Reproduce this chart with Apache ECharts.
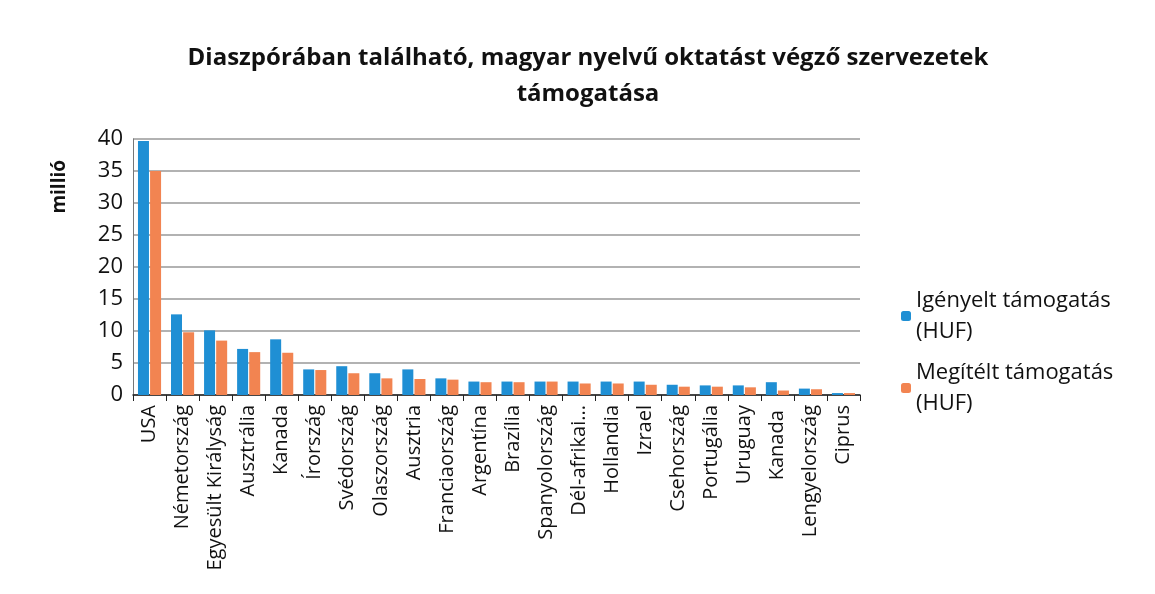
<!DOCTYPE html>
<html>
<head>
<meta charset="utf-8">
<script src="https://cdn.jsdelivr.net/npm/echarts@6/dist/echarts.min.js"></script>
<style>
  html, body { margin: 0; padding: 0; background: #fff; }
  #chart { width: 1155px; height: 594px; }
</style>
</head>
<body>
<div id="chart"></div>
<script>
var countries = ['USA', 'Németország', 'Egyesült Királyság', 'Ausztrália', 'Kanada', 'Írország',
  'Svédország', 'Olaszország', 'Ausztria', 'Franciaország', 'Argentína', 'Brazília',
  'Spanyolország', 'Dél-afrikai...', 'Hollandia', 'Izrael', 'Csehország', 'Portugália',
  'Uruguay', 'Kanada ', 'Lengyelország', 'Ciprus'];
var requested = [39.7, 12.6, 10.1, 7.2, 8.7, 4.0, 4.5, 3.4, 4.0, 2.6, 2.1, 2.1,
  2.1, 2.1, 2.1, 2.1, 1.6, 1.5, 1.5, 2.0, 1.0, 0.3];
var granted = [35.0, 9.8, 8.5, 6.7, 6.6, 3.9, 3.4, 2.6, 2.5, 2.4, 2.0, 2.0,
  2.1, 1.8, 1.8, 1.6, 1.3, 1.3, 1.2, 0.7, 0.9, 0.3];
var yTicks = [0, 5, 10, 15, 20, 25, 30, 35, 40];

var chart = echarts.init(document.getElementById('chart'));
var font = 'Open Sans, Lato, sans-serif';

chart.setOption({
  backgroundColor: '#ffffff',
  color: ['#1f8fd4', '#f28451'],
  animation: false,
  title: {
    text: 'Diaszpórában található, magyar nyelvű oktatást végző szervezetek\ntámogatása',
    left: 583,
    top: 35,
    textAlign: 'center',
    textStyle: { fontFamily: font, fontSize: 24, fontWeight: 'bold', color: '#111', lineHeight: 36 }
  },
  graphic: [{
    type: 'text',
    left: 50,
    top: 160,
    rotation: Math.PI / 2,
    style: { text: 'millió', font: 'bold 19px Open Sans, sans-serif', fill: '#111' }
  }],
  legend: {
    orient: 'vertical',
    left: 896,
    top: 280,
    itemWidth: 10,
    itemHeight: 10,
    itemGap: 10,
    data: ['Igényelt támogatás\n(HUF)', 'Megítélt támogatás\n(HUF)'],
    textStyle: { fontFamily: font, fontSize: 22, color: '#111', lineHeight: 31 }
  },
  grid: { left: 133, right: 295, top: 139, bottom: 199 },
  xAxis: {
    type: 'category',
    data: countries,
    axisLine: { lineStyle: { color: '#222', width: 1.5 } },
    axisTick: { show: true, lineStyle: { color: '#222' }, length: 6 },
    axisLabel: { rotate: 90, interval: 0, fontFamily: font, fontSize: 20, color: '#111', margin: 10 }
  },
  yAxis: {
    type: 'value',
    min: yTicks[0],
    max: yTicks[yTicks.length - 1],
    interval: 5,
    axisLine: { show: true, lineStyle: { color: '#777' } },
    axisTick: { show: false },
    splitLine: { lineStyle: { color: '#999', width: 1.5 } },
    axisLabel: { fontFamily: font, fontSize: 22, color: '#111', margin: 10 }
  },
  series: [
    { name: 'Igényelt támogatás\n(HUF)', type: 'bar', data: requested, barWidth: 11, barGap: '10%' },
    { name: 'Megítélt támogatás\n(HUF)', type: 'bar', data: granted, barWidth: 11, barGap: '10%' }
  ]
});
</script>
</body>
</html>
